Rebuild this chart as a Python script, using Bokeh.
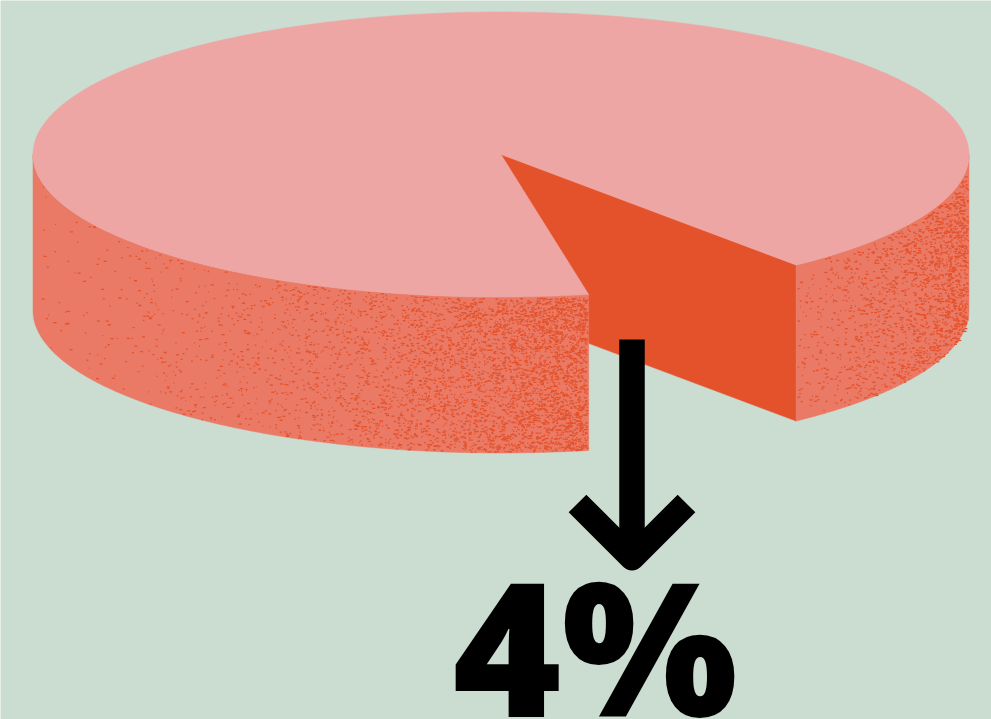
import numpy as np
from bokeh.core.properties import value
from bokeh.embed import file_html
from bokeh.models import Range1d
from bokeh.plotting import figure
from bokeh.resources import INLINE

# Slice shown pulled out of the disc, as parametric angles on the ellipse
slice_label = "4%"
slice_start_deg = 50.9
slice_end_deg = 79.2

BG = "#cbdcd0"
TOP = "#eea6a5"
WALL = "#ea7a65"
CUT = "#e4522b"

CX, CY, RX, RY, DEPTH = 500.5, 154.0, 468.0, 142.5, 156.0


def rim(deg):
    t = np.radians(deg)
    return CX + RX * np.cos(t), CY + RY * np.sin(t)


p = figure(width=991, height=719, output_backend="svg", toolbar_location=None,
           x_range=Range1d(0, 991), y_range=Range1d(719, 0), min_border=0,
           background_fill_color=BG, border_fill_color=BG, outline_line_color=None)
p.axis.visible = False
p.grid.visible = False

# Exposed cut face of the missing slice
bx, by = rim(slice_start_deg)
p.patch([CX, bx, bx, CX], [CY, by, by + DEPTH, CY + DEPTH], fill_color=CUT, line_color=CUT, line_width=0.5)


def wall(deg_from, deg_to):
    tt = np.linspace(deg_from, deg_to, 160)
    x, y = rim(tt)
    p.patch(np.r_[x, x[::-1]], np.r_[y, y[::-1] + DEPTH], fill_color=WALL, line_color=WALL, line_width=0.5)


wall(slice_end_deg, 180)
wall(0, slice_start_deg)

# Printed-grain texture on the side walls: tiny flecks that thin out away from one edge
rng = np.random.default_rng(11)


def grain(dense_edge_x, direction, count, falloff, x_min, x_max):
    w = rng.choice([1.0, 1.5, 2.0, 3.0], count)
    x = dense_edge_x + direction * rng.exponential(falloff, count)
    keep = (x > x_min + 1) & (x + w < x_max)
    x, w = x[keep], w[keep]
    top_y = CY + RY * np.sqrt(1 - ((x - CX) / RX) ** 2)
    y = top_y + 1 + rng.random(x.size) * (DEPTH - 2)
    p.quad(left=x, right=x + w, top=y, bottom=y + 1.3, color=CUT, line_color=None)


left_end = rim(slice_end_deg)[0]
right_start = rim(slice_start_deg)[0]
grain(left_end, -1, 5000, 140, CX - RX, left_end)
grain(CX + RX, -1, 2200, 65, right_start, CX + RX)

# Top face of the disc, with the slice removed
tt = np.linspace(slice_end_deg, slice_start_deg + 360, 500)
tx, ty = rim(tt)
p.patch(np.r_[CX, tx], np.r_[CY, ty], fill_color=TOP, line_color=TOP, line_width=0.5)

# Arrow from the slice down to its label
arrow_x = 631.5
p.line([arrow_x, arrow_x], [339, 552], line_color="black", line_width=25.5, line_cap="butt")
p.line([arrow_x - 54.5, arrow_x, arrow_x + 54.5], [503, 557.5, 503], line_color="black", line_width=25,
       line_join="round", line_cap="butt")

p.text([452], [517], text=[slice_label], text_font=value("Open Sans ExtraBold"), text_font_style="bold",
       text_font_size="186px", text_color="black", text_align="left", text_baseline="top")

open("out.html", "w").write(file_html(p, INLINE))
